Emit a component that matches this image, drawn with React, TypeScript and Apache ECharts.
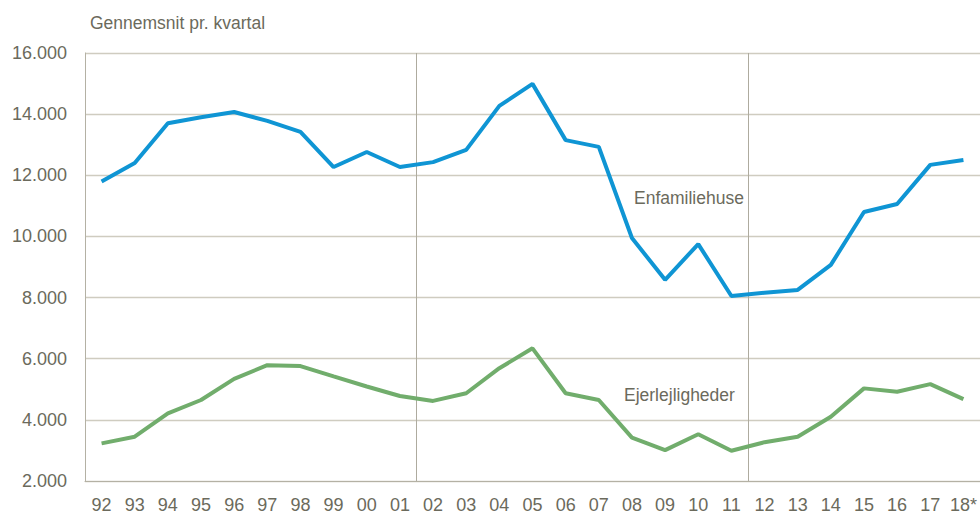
import React, { useEffect, useRef } from "react";
import * as echarts from "echarts";

const categories = ["92","93","94","95","96","97","98","99","00","01","02","03","04","05","06","07","08","09","10","11","12","13","14","15","16","17","18*"];
const enfamiliehuse = [11800,12400,13700,13900,14070,13780,13420,12270,12760,12270,12430,12830,14270,14990,13150,12930,9950,8580,9750,8050,8160,8250,9070,10800,11060,12340,12500];
const ejerlejligheder = [3230,3450,4210,4650,5340,5790,5760,5420,5090,4780,4620,4870,5690,6340,4870,4650,3420,3010,3530,2990,3270,3450,4100,5030,4920,5170,4680];
const yTicks = { min: 2000, max: 16000, interval: 2000 };
const seriesNames = ["Enfamiliehuse", "Ejerlejligheder"];
const title = "Gennemsnit pr. kvartal";

const TEXT = "#6b6a5c";
const FONT = "'Liberation Sans', Arial, sans-serif";

export default function App() {
  const ref = useRef<HTMLDivElement>(null);
  useEffect(() => {
    if (!ref.current) return;
    const chart = echarts.init(ref.current, null, { renderer: "svg" });
    chart.setOption({
      animation: false,
      backgroundColor: "#ffffff",
      grid: { left: 85, right: 0, top: 53, bottom: 35, containLabel: false },
      xAxis: {
        type: "category",
        data: categories,
        boundaryGap: true,
        axisLine: { show: true, lineStyle: { color: "#b4b1a4", width: 1 } },
        axisTick: { show: false },
        axisLabel: { color: TEXT, fontSize: 18, fontFamily: FONT, margin: 15, interval: 0 },
        splitLine: {
          show: true,
          interval: (i: number) => i === 10 || i === 20,
          lineStyle: { color: "#aeab9f", width: 1 },
        },
      },
      yAxis: {
        type: "value",
        min: yTicks.min,
        max: yTicks.max,
        interval: yTicks.interval,
        axisLine: { show: true, lineStyle: { color: "#b4b1a4", width: 1 } },
        axisTick: { show: false },
        axisLabel: {
          color: TEXT,
          fontSize: 18,
          fontFamily: FONT,
          margin: 18,
          formatter: (v: number) => (v / 1000).toFixed(3),
        },
        splitLine: { show: true, lineStyle: { color: "#cfccc0", width: 1.3 } },
      },
      series: [
        {
          name: seriesNames[0],
          type: "line",
          data: enfamiliehuse,
          symbol: "none",
          lineStyle: { color: "#0f95d4", width: 4 },
        },
        {
          name: seriesNames[1],
          type: "line",
          data: ejerlejligheder,
          symbol: "none",
          lineStyle: { color: "#71ad6c", width: 4 },
        },
      ],
      graphic: [
        { type: "text", left: 90, top: 14, style: { text: title, fill: TEXT, fontSize: 17.5, fontFamily: FONT } },
        { type: "text", left: 634, top: 189, style: { text: seriesNames[0], fill: TEXT, fontSize: 17.5, fontFamily: FONT } },
        { type: "text", left: 624, top: 386, style: { text: seriesNames[1], fill: TEXT, fontSize: 17.5, fontFamily: FONT } },
      ],
    });
    return () => chart.dispose();
  }, []);
  return <div ref={ref} style={{ width: 980, height: 516, position: "absolute", left: 0, top: 0 }} />;
}
